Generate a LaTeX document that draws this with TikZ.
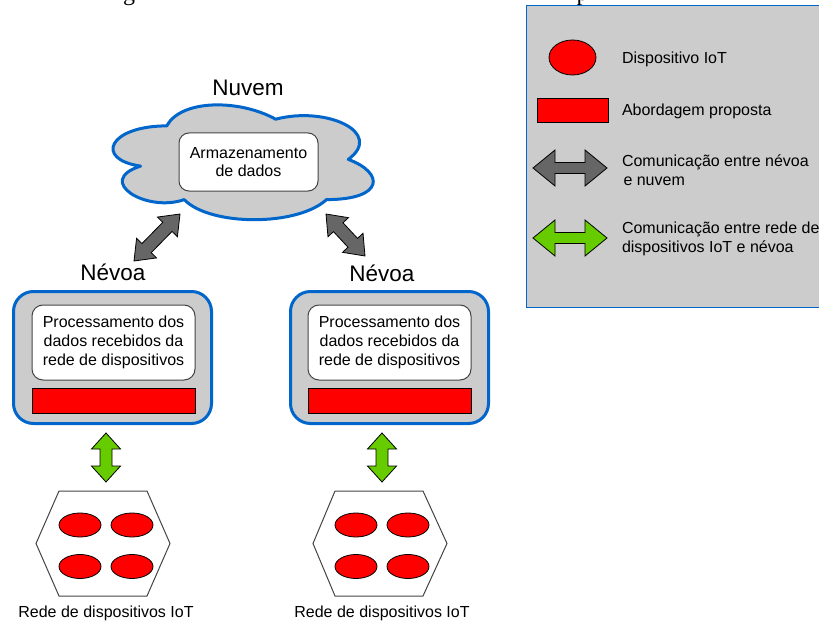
\documentclass[tikz,border=0pt]{standalone}
\usepackage{fontspec}
\setmainfont{Liberation Sans}
\newfontfamily\docserif{Liberation Serif}
\usetikzlibrary{calc,shapes.geometric}
\definecolor{fillgray}{HTML}{CCCCCC}
\definecolor{edgeblue}{HTML}{0066CC}
\definecolor{arrowgray}{HTML}{666666}
\definecolor{arrowgreen}{HTML}{66CC00}
\definecolor{devred}{HTML}{FF0000}
\definecolor{innerline}{HTML}{444444}

% #1 from, #2 to, #3 head length, #4 head half width, #5 shaft half width, #6 fill
\newcommand{\dblblockarrow}[6]{%
  \filldraw[blockarrow, fill=#6]
    (#1)
    -- ($(#1)!#3!(#2)!#4!90:(#2)$)
    -- ($(#1)!#3!(#2)!#5!90:(#2)$)
    -- ($(#2)!#3!(#1)!#5!-90:(#1)$)
    -- ($(#2)!#3!(#1)!#4!-90:(#1)$)
    -- (#2)
    -- ($(#2)!#3!(#1)!#4!90:(#1)$)
    -- ($(#2)!#3!(#1)!#5!90:(#1)$)
    -- ($(#1)!#3!(#2)!#5!-90:(#2)$)
    -- ($(#1)!#3!(#2)!#4!-90:(#2)$)
    -- cycle;}

\begin{document}
\begin{tikzpicture}[x=1pt,y=-1pt,
  every node/.style={font=\fontsize{16}{19}\selectfont, inner sep=0pt, outer sep=0pt},
  titletext/.style={font=\fontsize{22.5}{26}\selectfont},
  fogbox/.style={draw=edgeblue, line width=3pt, fill=fillgray, rounded corners=20pt,
    minimum width=198pt, minimum height=132pt},
  procbox/.style={draw=innerline, line width=1pt, fill=white, rounded corners=11pt,
    minimum width=163pt, minimum height=75pt, align=center},
  redbar/.style={draw=black, line width=0.8pt, fill=devred, minimum width=163pt, minimum height=25pt},
  device/.style={draw=black, line width=0.8pt, fill=devred, ellipse,
    minimum width=42pt, minimum height=24pt},
  hexline/.style={draw=innerline, line width=1pt, fill=white, line join=miter},
  blockarrow/.style={draw=black, line width=0.8pt, line join=miter},
  cloudline/.style={draw=edgeblue, line width=3pt, fill=fillgray, line join=round},
  legendbox/.style={draw=edgeblue, line width=1pt, fill=fillgray}
]
\useasboundingbox (0,0) rectangle (819,623);
\clip (0,0) rectangle (819,623);

% clipped fragments of the surrounding document text
\node[anchor=base, font=\docserif\fontsize{24}{24}\selectfont] (fragg) at (129,0.3) {g};
\node[anchor=base west, font=\docserif\fontsize{24}{24}\selectfont] (fragp) at (576.5,0.3) {p};

% ---------- cloud ----------
\node[titletext] (nuvemlbl) at (248,88) {Nuvem};
\begin{scope}[shift={(94.1,92.4)}, x=290.5pt, y=-134pt]
  \filldraw[cloudline] (0.25,0.25) .. controls (0.05,0.25) and (0,0.5) .. (0.16,0.55)
    .. controls (0,0.66) and (0.18,0.9) .. (0.31,0.8)
    .. controls (0.4,1) and (0.7,1) .. (0.8,0.8)
    .. controls (1,0.8) and (1,0.6) .. (0.875,0.5)
    .. controls (1,0.3) and (0.8,0.1) .. (0.625,0.2)
    .. controls (0.5,0.05) and (0.3,0.05) .. (0.25,0.25) -- cycle;
\end{scope}
\node[procbox, minimum width=139pt, minimum height=58pt, rounded corners=10pt, align=center,
  font=\fontsize{16}{18}\selectfont] (store) at (248.5,162) {Armazenamento\\de dados};

% ---------- fog nodes ----------
\node[titletext] (nevoa1lbl) at (113,272) {Névoa};
\node[titletext] (nevoa2lbl) at (382,273) {Névoa};

\node[fogbox] (fog1) at (112.5,357.5) {};
\node[procbox] (proc1) at (113.5,342.5) {Processamento dos\\dados recebidos da\\rede de dispositivos};
\node[redbar] (bar1) at (113.5,400.5) {};

\node[fogbox] (fog2) at (389.5,357.5) {};
\node[procbox] (proc2) at (389.5,342.5) {Processamento dos\\dados recebidos da\\rede de dispositivos};
\node[redbar] (bar2) at (389.5,400.5) {};

% ---------- cloud <-> fog arrows ----------
\coordinate (cl1) at (180,214);
\coordinate (fg1) at (134,261);
\coordinate (cl2) at (326,214);
\coordinate (fg2) at (365,256);
\dblblockarrow{fg1}{cl1}{18pt}{14pt}{6.5pt}{arrowgray}
\dblblockarrow{cl2}{fg2}{18pt}{14pt}{6.5pt}{arrowgray}

% ---------- fog <-> device network arrows ----------
\coordinate (fb1) at (106,433);
\coordinate (nt1) at (106,482);
\coordinate (fb2) at (382,433);
\coordinate (nt2) at (382,482);
\dblblockarrow{fb1}{nt1}{16pt}{14.5pt}{6pt}{arrowgreen}
\dblblockarrow{fb2}{nt2}{16pt}{14.5pt}{6pt}{arrowgreen}

% ---------- device networks ----------
\filldraw[hexline] (59,491) -- (147,491) -- (170,543.5) -- (147,596) -- (59,596) -- (36,543.5) -- cycle;
\coordinate (net1) at (103,543.5);
\node[device] (d11) at (80,525) {};
\node[device] (d12) at (132,525) {};
\node[device] (d13) at (80,566.5) {};
\node[device] (d14) at (132,566.5) {};
\node (net1lbl) at (106,613) {Rede de dispositivos IoT};

\filldraw[hexline] (335,491) -- (423,491) -- (447,543.5) -- (423,596) -- (335,596) -- (313,543.5) -- cycle;
\coordinate (net2) at (380,543.5);
\node[device] (d21) at (356,525) {};
\node[device] (d22) at (408,525) {};
\node[device] (d23) at (356,566.5) {};
\node[device] (d24) at (408,566.5) {};
\node (net2lbl) at (382,613) {Rede de dispositivos IoT};

% ---------- legend ----------
\node[legendbox, anchor=north west, minimum width=310pt, minimum height=301pt] (legend) at (526,6) {};
\node[device, minimum width=47pt, minimum height=35pt] (ldev) at (572.5,57.5) {};
\node[anchor=west] (ldevtxt) at (622,59) {Dispositivo IoT};
\node[redbar, minimum width=71pt, minimum height=24pt] (lbar) at (572.5,110) {};
\node[anchor=west] (lbartxt) at (622,111) {Abordagem proposta};
\coordinate (lga) at (533,168);
\coordinate (lgb) at (607,168);
\dblblockarrow{lga}{lgb}{22pt}{18pt}{5.5pt}{arrowgray}
\node[anchor=west, align=left] (lgtxt) at (622,170) {Comunicação entre névoa\\\hspace*{1.5pt}e nuvem};
\coordinate (lna) at (533,238);
\coordinate (lnb) at (607,238);
\dblblockarrow{lna}{lnb}{22pt}{18pt}{5.5pt}{arrowgreen}
\node[anchor=west, align=left] (lntxt) at (622,239) {Comunicação entre rede de\\dispositivos IoT e névoa};
\end{tikzpicture}
\end{document}
